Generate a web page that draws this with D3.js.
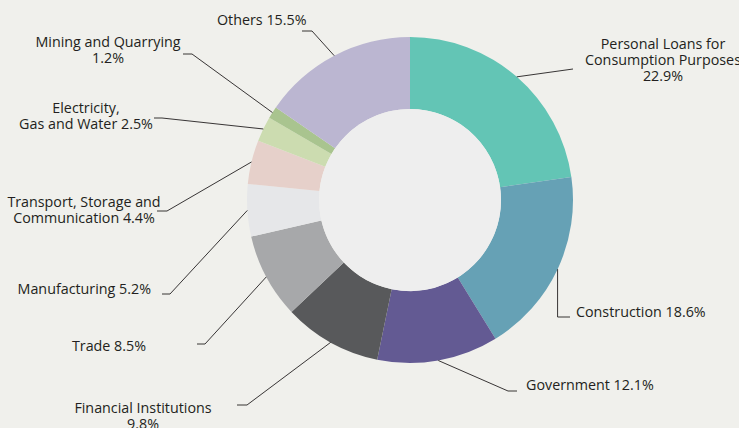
<!DOCTYPE html>
<html>
<head>
<meta charset="utf-8">
<script src="https://cdn.jsdelivr.net/npm/d3@7"></script>
<style>
  html, body { margin: 0; padding: 0; background: #f0f0ec; }
  svg { display: block; }
  text { font-family: "Open Sans", "Noto Sans", sans-serif; font-size: 14.3px; fill: #231f20; }
</style>
</head>
<body>
<svg id="chart" width="739" height="428"></svg>
<script>
// Loan categories, clockwise from 12 o'clock
const categories = [
  "Personal Loans for Consumption Purposes",
  "Construction",
  "Government",
  "Financial Institutions",
  "Trade",
  "Manufacturing",
  "Transport, Storage and Communication",
  "Electricity, Gas and Water",
  "Mining and Quarrying",
  "Others"
];
// Share of total loans, percent
const shares = [22.9, 18.6, 12.1, 9.8, 8.5, 5.2, 4.4, 2.5, 1.2, 15.5];
const colors = ["#63c5b5", "#66a1b5", "#635a93", "#58595b", "#a7a8aa",
                "#e6e7e9", "#e6d0ca", "#ccdcb0", "#a9c48f", "#bbb6d1"];

// How each label is broken into lines; the value is appended to the
// last line or set on a line of its own
const nameLines = [
  ["Personal Loans for", "Consumption Purposes"],
  ["Construction"],
  ["Government"],
  ["Financial Institutions"],
  ["Trade"],
  ["Manufacturing"],
  ["Transport, Storage and", "Communication"],
  ["Electricity,", "Gas and Water"],
  ["Mining and Quarrying"],
  ["Others"]
];
const valueOwnLine = [true, false, false, true, false, false, false, false, true, false];

// Label placement: anchor, text position, leader tip near the text and knee
// (a null knee coordinate is taken from the point on the ring)
const labelLayout = [
  { anchor: "middle", x: 663, y: 49,  tip: [573, 69],  knee: null },
  { anchor: "start",  x: 576, y: 317, tip: [570, 317], knee: [null, 317] },
  { anchor: "start",  x: 526, y: 390, tip: [517, 391], knee: [508, 391] },
  { anchor: "middle", x: 143, y: 413, tip: [237, 405], knee: [247, 405] },
  { anchor: "end",    x: 146, y: 351, tip: [197, 344], knee: [205, 344] },
  { anchor: "end",    x: 151, y: 294, tip: [162, 294], knee: [170, 294] },
  { anchor: "middle", x: 84,  y: 207, tip: [157, 211], knee: [167, 211] },
  { anchor: "middle", x: 86,  y: 113, tip: [154, 118], knee: [162, 118] },
  { anchor: "middle", x: 108, y: 47,  tip: [183, 54],  knee: [192, 54] },
  { anchor: "start",  x: 217, y: 25,  tip: [302, 31],  knee: [312, 31] }
];

const cx = 410, cy = 200, outerR = 163, innerR = 91, lineH = 16;

const svg = d3.select("#chart");
svg.append("rect").attr("width", 739).attr("height", 428).attr("fill", "#f0f0ec");

const g = svg.append("g").attr("transform", `translate(${cx},${cy})`);

const pie = d3.pie().sort(null).value(d => d.value);
const arcs = pie(categories.map((c, i) => ({ name: c, value: shares[i], i })));
const arc = d3.arc().innerRadius(innerR).outerRadius(outerR);

g.selectAll("path.slice")
  .data(arcs)
  .join("path")
  .attr("class", "slice")
  .attr("d", arc)
  .attr("fill", (d, i) => colors[i]);

// centre disc
g.append("circle").attr("r", innerR).attr("fill", "#eeeeee");

// leader lines
const leaders = svg.append("g")
  .attr("fill", "none")
  .attr("stroke", "#231f20")
  .attr("stroke-width", 0.9);

arcs.forEach((d, i) => {
  const a = (d.startAngle + d.endAngle) / 2;
  const px = cx + outerR * Math.sin(a);
  const py = cy - outerR * Math.cos(a);
  const L = labelLayout[i];
  const pts = [L.tip];
  if (L.knee) pts.push([L.knee[0] == null ? px : L.knee[0], L.knee[1] == null ? py : L.knee[1]]);
  pts.push([px, py]);
  leaders.append("path").attr("d", d3.line()(pts));
});

// labels
const labels = svg.append("g");
arcs.forEach((d, i) => {
  const L = labelLayout[i];
  const val = `${shares[i]}%`;
  const lines = nameLines[i].slice();
  if (valueOwnLine[i]) lines.push(val);
  else lines[lines.length - 1] = lines[lines.length - 1] + " " + val;
  const t = labels.append("text")
    .attr("text-anchor", L.anchor)
    .attr("x", L.x)
    .attr("y", L.y);
  lines.forEach((s, k) => {
    t.append("tspan").attr("x", L.x).attr("y", L.y + k * lineH).text(s);
  });
});
</script>
</body>
</html>
